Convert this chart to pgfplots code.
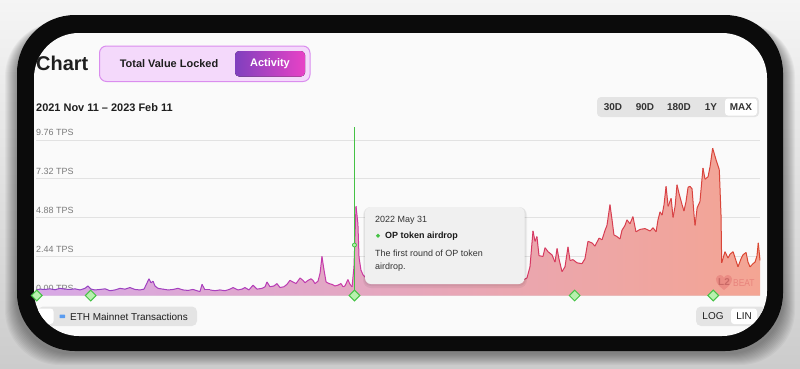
\documentclass[border=0pt]{standalone}
\usepackage{pgfplots}
\pgfplotsset{compat=1.18}
\usepackage{pgfplotstable}
\usepackage{fontspec}
\setmainfont{Liberation Sans}

\definecolor{frameblack}{HTML}{0B0B0B}
\definecolor{panel}{HTML}{FAFAFA}
\definecolor{gridc}{HTML}{E2E2E2}
\definecolor{tickc}{HTML}{7A7A7A}
\definecolor{txt}{HTML}{1E1E1E}
\definecolor{togglefill}{HTML}{F4D9FB}
\definecolor{toggleborder}{HTML}{DA8DEE}
\definecolor{actL}{HTML}{8040BE}
\definecolor{actR}{HTML}{E842C6}
\definecolor{btngray}{HTML}{E4E4E4}
\definecolor{fillL}{HTML}{D7A8E6}
\definecolor{fillM}{HTML}{EDA9CB}
\definecolor{fillR}{HTML}{F4A593}
\definecolor{evgreen}{HTML}{45C245}
\definecolor{evfill}{HTML}{B8F0AE}
\definecolor{tipfill}{HTML}{F0F0F0}
\definecolor{legblue}{HTML}{5A9CF0}
\definecolor{wmred}{HTML}{E06868}

\pgfplotstableread{
x y
0 0.35
2.5 0.40
5.7 0.38
8.8 0.42
12.0 0.36
15.1 0.45
18.3 0.40
21.5 0.38
24.6 0.42
27.8 0.35
30.9 0.45
32.8 0.60
34.7 0.40
37.2 0.35
40.4 0.38
43.6 0.42
46.7 0.30
49.9 0.35
53.0 0.45
56.2 0.40
59.3 0.50
62.5 0.38
65.6 0.35
68.2 0.40
70.1 0.80
71.3 1.05
72.6 0.80
73.9 0.90
75.1 0.60
77.0 0.45
80.2 0.40
83.4 0.35
86.5 0.38
89.6 0.45
92.8 0.35
95.9 0.32
99.1 0.38
102.3 0.28
103.5 0.25
104.8 0.70
106.7 0.35
109.8 0.35
113.0 0.30
116.1 0.35
119.3 0.30
122.5 0.40
124.4 0.50
127.5 0.35
130.0 0.40
131.9 0.50
134.4 0.35
137.0 0.65
139.5 0.40
142.7 0.45
144.6 0.55
145.8 0.85
147.7 0.55
150.2 0.60
152.1 0.75
154.0 0.50
156.5 0.55
158.4 0.70
160.3 0.95
162.2 0.85
164.1 0.75
166.7 1.10
168.5 0.95
169.8 0.80
171.7 0.95
173.6 1.05
174.8 0.95
176.1 0.75
178.0 0.90
179.3 1.40
180.5 2.45
181.8 1.60
183.1 0.85
185.0 0.75
186.8 0.70
188.7 0.60
190.6 0.65
192.5 0.75
193.8 0.55
195.0 0.60
196.9 1.00
198.2 0.70
199.5 0.55
200.7 1.80
202.0 5.60
203.2 4.50
203.9 2.40
205.1 1.60
206.4 1.30
208.3 1.10
210.8 1.20
214.0 1.05
217.1 1.30
220.3 1.15
223.5 1.40
226.6 1.25
229.8 1.10
232.9 1.35
236.1 1.20
239.2 1.50
242.4 1.30
245.5 1.15
248.7 1.40
251.9 1.25
255.0 1.60
258.2 1.35
261.3 1.20
264.5 1.45
267.6 1.30
270.8 1.50
274.0 1.25
277.1 1.40
280.3 1.20
283.4 1.35
286.6 1.15
289.7 1.30
292.9 1.10
296.0 1.25
299.2 1.05
302.4 1.20
305.5 1.00
308.0 1.00
309.9 1.10
311.8 1.80
313.7 4.05
315.0 3.40
316.2 3.70
317.5 2.50
320.0 2.45
321.3 3.00
323.2 2.75
325.7 2.55
327.6 2.10
328.9 2.95
330.1 2.30
332.0 1.50
333.9 1.80
335.8 3.05
337.1 2.20
339.0 2.25
341.5 2.05
344.6 2.00
346.5 2.30
348.4 3.40
351.0 3.30
352.8 3.10
355.4 3.60
357.3 3.50
359.2 4.10
360.4 4.40
362.3 5.70
363.6 4.75
364.8 3.80
366.7 3.70
368.6 3.55
369.9 4.10
371.8 4.40
373.0 4.75
374.9 4.50
376.8 4.95
378.7 4.00
381.3 4.15
384.4 4.20
387.6 4.05
389.5 4.25
391.4 4.00
392.6 4.75
393.9 5.25
395.2 5.05
396.4 5.70
397.7 6.85
399.0 5.60
400.9 6.10
402.1 4.90
403.4 5.60
404.6 6.95
405.9 6.40
407.8 5.70
409.0 5.30
410.3 5.90
411.6 6.80
412.8 6.85
414.1 6.70
415.4 5.00
416.0 4.40
417.3 5.50
419.1 5.90
421.0 8.00
422.3 7.30
424.2 7.45
425.5 8.10
427.1 9.25
429.3 8.50
431.3 7.90
432.4 5.00
432.8 2.05
434.9 2.75
436.8 2.35
438.1 2.60
440.0 2.75
441.8 2.20
443.1 1.80
445.0 2.30
446.2 2.55
448.2 2.70
449.4 2.10
450.7 1.80
452.6 2.00
453.9 2.10
455.1 2.50
455.9 3.30
457.0 2.20
}\tpsdata

\begin{document}
\begin{tikzpicture}[x=1bp,y=-1bp]
% background and shadow
\fill[top color=white!96!black, bottom color=white!80!black] (0,0) rectangle (800,368);
\foreach \i in {1,...,12}{
  \fill[black,opacity=0.035,rounded corners=55bp] ({17-\i},{22}) rectangle ({783+\i},{353+\i});
}
% frame and panel
\fill[frameblack, rounded corners=58bp] (17,15) rectangle (783,351);
\fill[panel, rounded corners=45bp] (34,33) rectangle (767,336);

% header
\node[anchor=base west, inner sep=0, font=\fontsize{20}{24}\selectfont\bfseries, text=txt] at (36,70.5) {Chart};
\draw[fill=togglefill, draw=toggleborder, line width=1bp, rounded corners=7bp] (99.5,46) rectangle (310,81.5);
\fill[left color=actL, right color=actR, rounded corners=4bp] (235,51) rectangle (305,76.5);
\node[font=\fontsize{11}{13}\selectfont\bfseries, text=txt] at (169,63.5) {Total Value Locked};
\node[font=\fontsize{11}{13}\selectfont\bfseries, text=white] at (270,63.5) {Activity};
\node[anchor=base west, inner sep=0, font=\fontsize{11}{13}\selectfont\bfseries, text=txt] at (36,111) {2021 Nov 11 – 2023 Feb 11};

% range buttons
\fill[btngray, rounded corners=4bp] (597,97) rectangle (759,117);
\fill[white, rounded corners=3bp] (725,98.5) rectangle (757,115.5);
\foreach \lx/\lt in {613/30D, 645/90D, 679/180D, 711/1Y, 741/MAX}{
  \node[font=\fontsize{10}{12}\selectfont\bfseries, text=black!80] at (\lx,107) {\lt};
}

% chart
\begin{axis}[
  at={(36bp,-295.5bp)}, anchor=south west,
  width=724bp, height=155.5bp, scale only axis,
  xmin=0, xmax=457, ymin=0, ymax=9.76,
  axis line style={draw=none},
  xtick=\empty,
  ytick={0,2.44,4.88,7.32,9.76},
  yticklabels={0.00 TPS,2.44 TPS,4.88 TPS,7.32 TPS,9.76 TPS},
  ymajorgrids, major grid style={color=gridc, line width=0.8bp},
  major tick length=0pt,
  yticklabel style={anchor=base west, inner sep=0pt, yshift=4bp,
    font=\fontsize{9}{10}\selectfont, text=tickc},
  /pgf/number format/assume math mode=true,
  clip=false,
  colormap={lc}{rgb255(0pt)=(142,68,196); rgb255(130pt)=(175,62,188); rgb255(200pt)=(205,58,165); rgb255(313pt)=(214,56,100); rgb255(457pt)=(218,72,48)},
  point meta min=0, point meta max=457,
]
\addplot[draw=none, left color=fillL, middle color=fillM, right color=fillR] table[x=x,y=y] {\tpsdata} \closedcycle;
\addplot[mesh, point meta=x, line width=1bp, line join=round] table[x=x,y=y] {\tpsdata};
\addplot[draw=evgreen, line width=1.3bp] coordinates {(201,0) (201,10.58)};
\addplot[only marks, mark=*, mark size=2bp, mark options={fill=evfill, draw=evgreen, line width=0.8bp}] coordinates {(201,3.17)};
\addplot[only marks, mark=square*, mark size=3.8bp, mark options={rotate=45, fill=evfill, draw=evgreen, line width=1bp}]
  coordinates {(0.5,0) (34.5,0) (201,0) (340,0) (427.5,0)};
\end{axis}

% watermark: heart shape with L2, then BEAT
\fill[wmred, opacity=0.4] (724,290) .. controls (716,284) and (714.5,279) .. (717,276.5)
  .. controls (719.5,274) and (723,275) .. (724,278)
  .. controls (725,275) and (728.5,274) .. (731,276.5)
  .. controls (733.5,279) and (732,284) .. (724,290) -- cycle;
\node[font=\fontsize{10}{10}\selectfont\bfseries, text=wmred!80!black, opacity=0.6] at (724,282.5) {L2};
\node[anchor=west, inner sep=0, font=\fontsize{10}{10}\selectfont, text=wmred, opacity=0.55, xscale=0.85] at (733,283) {BEAT};

% tooltip
\fill[black, opacity=0.05, rounded corners=8bp] (363,207) rectangle (527,288);
\fill[black, opacity=0.05, rounded corners=7bp] (364,207) rectangle (526,286);
\fill[tipfill, rounded corners=6bp] (365,207) rectangle (524.5,284);
\node[anchor=west, inner sep=0, font=\fontsize{9}{11}\selectfont, text=black!80] at (375,220.5) {2022 May 31};
\fill[evgreen] (378,233.5) -- (380.2,235.7) -- (378,237.9) -- (375.8,235.7) -- cycle;
\node[anchor=west, inner sep=0, font=\fontsize{9}{11}\selectfont\bfseries, text=black!90] at (385,236) {OP token airdrop};
\node[anchor=west, inner sep=0, font=\fontsize{9}{11}\selectfont, text=black!80] at (375,253.5) {The first round of OP token};
\node[anchor=west, inner sep=0, font=\fontsize{9}{11}\selectfont, text=black!80] at (375,267) {airdrop.};

% bottom controls, clipped to the panel
\begin{scope}
\clip[rounded corners=45bp] (34,33) rectangle (767,336);
\fill[btngray, rounded corners=5bp] (38,306.5) rectangle (197,326);
\fill[white, rounded corners=3bp] (36,308.5) rectangle (53.5,324);
\fill[legblue, rounded corners=0.5bp] (59.5,314.5) rectangle (65,318);
\node[anchor=west, inner sep=0, font=\fontsize{10}{12}\selectfont, text=txt] at (70,316.5) {ETH Mainnet Transactions};
\fill[btngray, rounded corners=5bp] (696,306.5) rectangle (766,326);
\fill[white, rounded corners=3bp] (731,308.5) rectangle (757,324);
\node[font=\fontsize{10}{12}\selectfont, text=txt] at (713,316.5) {LOG};
\node[font=\fontsize{10}{12}\selectfont, text=txt] at (744,316.5) {LIN};
\end{scope}
\end{tikzpicture}
\end{document}
